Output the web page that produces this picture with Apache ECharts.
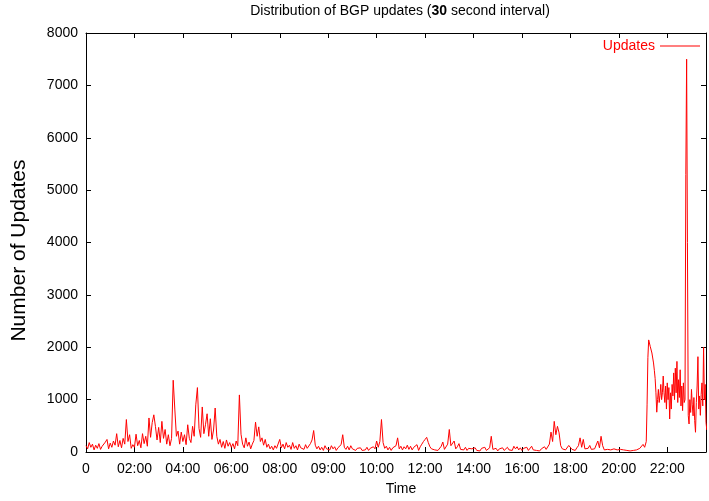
<!DOCTYPE html>
<html><head><meta charset="utf-8">
<script src="https://cdn.jsdelivr.net/npm/echarts@6/dist/echarts.min.js"></script>
<style>html,body{margin:0;padding:0;background:#fff;overflow:hidden}#c{width:709px;height:501px}</style>
</head><body><div id="c"></div>
<script>
const FONT = '"Liberation Sans", Arial, Helvetica, sans-serif';
const tickLabels = ['0','02:00','04:00','06:00','08:00','09:00','10:00','12:00','14:00','16:00','18:00','20:00','22:00'];
const tickStep = 120;      // axis units per labelled tick
const axisEnd = 1536;      // end of the recorded period (axis units)
const mainStep = 4;        // sample spacing of the quiet part
const burstStart = 1386;   // start of the late burst (axis units)
const burstStep = 2;       // sample spacing of the burst part

const updatesMain = [
 120,60,180,90,150,40,130,70,160,50,110,80,190,240,60,170,90,210,130,350,100,220,80,260,150,620,200,330,70,140,
 90,340,120,220,80,350,160,300,110,650,280,560,710,490,230,470,180,585,260,430,150,330,120,260,1370,820,300,400,150,380,
 200,330,140,520,260,180,490,300,900,1230,450,280,860,350,520,730,300,635,240,420,840,300,150,240,90,200,70,230,110,180,
 90,160,60,210,120,1090,340,150,80,270,110,190,60,150,220,570,300,480,200,270,130,240,90,150,60,110,40,120,70,100,
 240,80,150,60,180,90,130,50,180,70,120,40,150,80,110,50,140,70,100,160,230,410,130,60,110,40,90,30,120,60,
 90,40,120,60,100,30,80,50,140,330,90,50,110,40,120,60,90,30,70,40,80,30,60,40,90,30,70,50,100,60,
 210,90,200,620,180,70,110,40,90,30,80,50,120,270,60,110,40,100,60,130,50,110,40,90,60,140,30,100,150,200,
 240,280,180,100,60,90,40,70,30,60,110,190,50,80,150,430,120,90,210,60,100,160,50,80,40,90,30,70,40,60,
 40,80,30,60,20,70,40,90,30,60,80,300,50,30,70,20,60,40,80,30,50,90,40,70,30,110,60,100,40,80,
 30,70,40,90,30,60,110,40,70,30,50,20,60,40,100,50,80,150,380,200,585,330,490,365,120,60,90,40,70,125,
 130,50,60,30,80,120,270,90,240,60,40,70,125,50,30,60,90,210,80,300,120,40,20,50,30,40,20,60,30,40,
 30,50,20,40,60,30,50,20,40,30,60,40,30,70,50,145,90
];
const updatesBurst = [
 125,200,900,1800,2140,2170,2010,2040,1890,1920,
 1700,1560,1400,1130,760,1000,1195,945,1080,1290,
 1000,1130,1450,1130,945,1260,820,1320,1000,1230,
 630,1130,820,1290,1070,1510,1000,1600,1130,1730,
 945,1380,1040,1570,880,1260,790,1320,945,1000,
 5300,7500,4000,700,535,1000,755,1195,900,690,
 1040,600,377,945,1260,1820,820,1070,700,1100,
 1320,880,2000,1000,1290,566,420
];

const points = [];
updatesMain.forEach((v, i) => points.push([i * mainStep, v]));
updatesBurst.forEach((v, j) => points.push([burstStart + j * burstStep, v]));

const axisLineStyle = { show: true, onZero: false, lineStyle: { color: '#000', width: 1 } };
const tickStyle = { show: true, inside: true, length: 5, lineStyle: { color: '#000', width: 1 } };

const chart = echarts.init(document.getElementById('c'), null, { renderer: 'canvas', width: 709, height: 501 });
chart.setOption({
  animation: false,
  textStyle: { fontFamily: FONT },
  title: {
    text: '{a|Distribution of BGP updates (}{b|30}{a| second interval)}',
    left: 400, textAlign: 'center', top: 4, padding: 0,
    textStyle: { fontWeight: 'normal', rich: {
      a: { fontSize: 14, color: '#000', fontWeight: 'normal', fontFamily: FONT },
      b: { fontSize: 14, color: '#000', fontWeight: 'bold', fontFamily: FONT }
    } }
  },
  legend: {
    data: [{ name: 'Updates', icon: 'rect' }],
    right: 9, top: 39, padding: 0, align: 'right',
    itemWidth: 40, itemHeight: 1,
    textStyle: { color: '#ff0000', fontSize: 14, fontFamily: FONT }
  },
  grid: { left: 86, right: 2, top: 33, bottom: 44, containLabel: false },
  xAxis: [{
    type: 'value', min: 0, max: axisEnd, interval: tickStep, position: 'bottom',
    name: 'Time', nameLocation: 'middle', nameGap: 30,
    nameTextStyle: { fontSize: 14, color: '#000', fontFamily: FONT, padding: [0, 0, 0, 10] },
    axisLine: axisLineStyle, axisTick: tickStyle,
    axisLabel: { fontSize: 14, color: '#000', margin: 10, fontFamily: FONT,
      formatter: v => (v % tickStep === 0 && tickLabels[v / tickStep] !== undefined) ? tickLabels[v / tickStep] : '' },
    splitLine: { show: false }
  }, {
    type: 'value', min: 0, max: axisEnd, interval: tickStep, position: 'top',
    axisLine: axisLineStyle, axisTick: tickStyle, axisLabel: { show: false }, splitLine: { show: false }
  }],
  yAxis: [{
    type: 'value', min: 0, max: 8000, interval: 1000, position: 'left',
    name: 'Number of Updates', nameLocation: 'middle', nameGap: 56,
    nameTextStyle: { fontSize: 21, color: '#000', fontFamily: FONT, padding: [0, 16, 0, 0] },
    axisLine: axisLineStyle, axisTick: tickStyle,
    axisLabel: { fontSize: 14, color: '#000', margin: 8, fontFamily: FONT, formatter: v => String(v) },
    splitLine: { show: false }
  }, {
    type: 'value', min: 0, max: 8000, interval: 1000, position: 'right',
    axisLine: axisLineStyle, axisTick: tickStyle, axisLabel: { show: false }, splitLine: { show: false }
  }],
  series: [{
    name: 'Updates', type: 'line', data: points, xAxisIndex: 0, yAxisIndex: 0,
    showSymbol: false, symbol: 'none',
    lineStyle: { color: '#ff0000', width: 1 }, itemStyle: { color: '#ff0000' }
  }]
});
</script></body></html>
